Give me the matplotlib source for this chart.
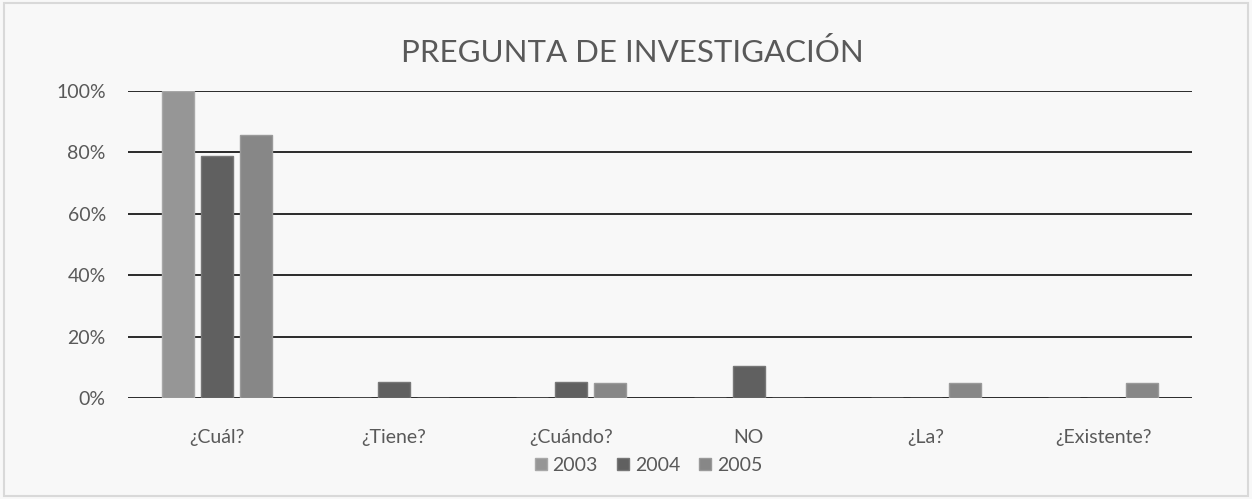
import numpy as np
import matplotlib.pyplot as plt
from matplotlib.patches import Rectangle
from matplotlib.ticker import PercentFormatter

categories = ['¿Cuál?', '¿Tiene?', '¿Cuándo?', 'NO', '¿La?', '¿Existente?']
years = ['2003', '2004', '2005']
v2003 = [100, 0, 0, 0, 0, 0]
v2004 = [78.9, 5.3, 5.3, 10.5, 0, 0]
v2005 = [85.7, 0, 4.8, 0, 4.8, 4.8]
colors = ['#969696', '#606060', '#878787']
edges = ['#a8a8a8', '#777777', '#9a9a9a']

plt.rcParams['font.family'] = ['Lato', 'DejaVu Sans']
txt = '#595959'
bg = '#f8f8f8'

fig = plt.figure(figsize=(12.52, 4.99), dpi=100, facecolor=bg)
fig.patches.append(Rectangle((0.003, 0.006), 0.994, 0.988, transform=fig.transFigure,
                             fill=False, edgecolor='#d9d9d9', linewidth=1.5))
ax = fig.add_axes([128 / 1252, 1 - 398 / 499, (1192 - 128) / 1252, (398 - 91) / 499])
ax.set_facecolor(bg)

x = np.arange(len(categories))
w = 0.18
step = 0.22
for i, (vals, c, e) in enumerate(zip([v2003, v2004, v2005], colors, edges)):
    ax.bar(x + (i - 1) * step, vals, w, color=c, edgecolor=e, linewidth=1,
           label=years[i], zorder=3)

ax.set_xlim(-0.5, len(categories) - 0.5)
ax.set_ylim(0, 100)
ax.set_yticks(range(0, 101, 20))
ax.yaxis.set_major_formatter(PercentFormatter(decimals=0))
ax.grid(axis='y', color='#1a1a1a', linewidth=1.3, zorder=0)
ax.set_xticks(x, categories)
for s in ax.spines.values():
    s.set_visible(False)
ax.tick_params(length=0, labelsize=14, labelcolor=txt)
ax.tick_params(axis='x', pad=22)
ax.tick_params(axis='y', pad=16)

fig.text(0.505, 0.895, 'PREGUNTA DE INVESTIGACIÓN', ha='center', va='center',
         fontsize=22.5, color=txt)
fig.legend(loc='center', bbox_to_anchor=(0.518, 0.068), ncol=3, frameon=False,
           fontsize=14, handlelength=0.6, handleheight=0.6, handletextpad=0.3,
           columnspacing=1.0, labelcolor=txt)

fig.savefig('out.png', dpi=100, facecolor=bg)
